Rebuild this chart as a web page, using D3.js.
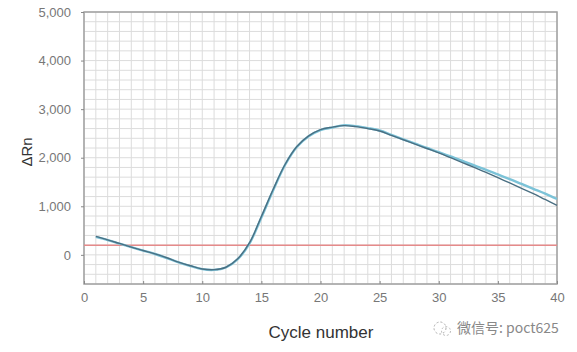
<!DOCTYPE html>
<html>
<head>
<meta charset="utf-8">
<script src="https://cdn.jsdelivr.net/npm/d3@7"></script>
<style>
  body { margin: 0; background: #fff; }
  text { font-family: "Liberation Sans", Arial, sans-serif; }
</style>
</head>
<body>
<div id="chart"></div>
<script>
// cycle numbers and the two amplification traces (delta Rn)
var cycles = d3.range(1, 41);
var traceLow = [380, 310, 235, 160, 90, 20, -60, -150, -225, -290, -305, -255, -80, 250, 790,
  1350, 1860, 2230, 2450, 2580, 2630, 2660, 2640, 2600, 2550, 2460, 2370, 2280, 2190, 2100,
  2000, 1900, 1800, 1700, 1590, 1480, 1370, 1260, 1140, 1020];
var traceHigh = [370, 305, 230, 158, 88, 18, -65, -155, -230, -295, -310, -260, -90, 235, 770,
  1330, 1850, 2220, 2440, 2570, 2620, 2670, 2650, 2610, 2560, 2470, 2380, 2290, 2200, 2115,
  2025, 1935, 1840, 1750, 1655, 1560, 1460, 1360, 1260, 1150];
var threshold = 200;
var xTicks = [0, 5, 10, 15, 20, 25, 30, 35, 40];
var yTicks = [0, 1000, 2000, 3000, 4000, 5000];

var svgWidth = 577;
var svgHeight = 352;
var margin = { top: 12, right: 20, bottom: 68, left: 84 };
var chartWidth = svgWidth - margin.left - margin.right;
var chartHeight = svgHeight - margin.top - margin.bottom;

var svg = d3.select("#chart").append("svg")
  .attr("width", svgWidth)
  .attr("height", svgHeight);

var chartGroup = svg.append("g")
  .attr("transform", `translate(${margin.left}, ${margin.top})`);

var xScale = d3.scaleLinear().domain([0, 40]).range([0, chartWidth]);
var yScale = d3.scaleLinear().domain([-600, 5000]).range([chartHeight, 0]);

// grid
chartGroup.append("g")
  .selectAll("line")
  .data(d3.range(0, 41))
  .enter().append("line")
  .attr("x1", d => xScale(d)).attr("x2", d => xScale(d))
  .attr("y1", 0).attr("y2", chartHeight)
  .attr("stroke", "#dcdcdc").attr("stroke-width", 1);

chartGroup.append("g")
  .selectAll("line")
  .data(d3.range(-600, 5001, 200))
  .enter().append("line")
  .attr("x1", 0).attr("x2", chartWidth)
  .attr("y1", d => yScale(d)).attr("y2", d => yScale(d))
  .attr("stroke", "#dcdcdc").attr("stroke-width", 1);

// frame
chartGroup.append("rect")
  .attr("width", chartWidth).attr("height", chartHeight)
  .attr("fill", "none").attr("stroke", "#a0a0a0").attr("stroke-width", 1.5);

// axes
var xAxis = d3.axisBottom(xScale).tickValues(xTicks).tickSize(-3).tickPadding(9);
var yAxis = d3.axisLeft(yScale).tickValues(yTicks).tickSize(3).tickPadding(10)
  .tickFormat(d3.format(","));

var gx = chartGroup.append("g")
  .attr("transform", `translate(0, ${chartHeight})`)
  .call(xAxis);
var gy = chartGroup.append("g").call(yAxis);

[gx, gy].forEach(function(g) {
  g.select(".domain").remove();
  g.selectAll("line").attr("stroke", "#888");
  g.selectAll("text")
    .attr("fill", "#777")
    .attr("font-size", "13px")
    .style("font-family", "'Liberation Sans', Arial, sans-serif");
});

// threshold line
chartGroup.append("line")
  .attr("x1", xScale(0)).attr("x2", xScale(40))
  .attr("y1", yScale(threshold)).attr("y2", yScale(threshold))
  .attr("stroke", "#e58a8a").attr("stroke-width", 1.5);

// traces
var line = d3.line()
  .x((d, i) => xScale(cycles[i]))
  .y(d => yScale(d))
  .curve(d3.curveCatmullRom);

chartGroup.append("path")
  .datum(traceHigh)
  .attr("d", line)
  .attr("fill", "none")
  .attr("stroke", "#7cc3d8")
  .attr("stroke-width", 2.4);

chartGroup.append("path")
  .datum(traceLow)
  .attr("d", line)
  .attr("fill", "none")
  .attr("stroke", "#4a6f82")
  .attr("stroke-width", 1.4);

// axis titles
svg.append("text")
  .attr("transform", "translate(32, 152) rotate(-90)")
  .attr("text-anchor", "middle")
  .attr("font-size", "15px")
  .attr("fill", "#333")
  .text("ΔRn");

svg.append("text")
  .attr("x", 321).attr("y", 338)
  .attr("text-anchor", "middle")
  .attr("font-size", "17px")
  .attr("fill", "#333")
  .text("Cycle number");

// watermark
var wm = svg.append("g").attr("transform", "translate(430, 320)");
wm.append("circle").attr("cx", 10).attr("cy", 8).attr("r", 6)
  .attr("fill", "none").attr("stroke", "#aaa").attr("stroke-dasharray", "2,2");
wm.append("circle").attr("cx", 16).attr("cy", 11).attr("r", 4.5)
  .attr("fill", "none").attr("stroke", "#bbb").attr("stroke-dasharray", "2,2");
svg.append("text")
  .attr("x", 457).attr("y", 333)
  .attr("font-size", "14px")
  .attr("fill", "#888")
  .style("font-family", "'Noto Sans CJK SC', 'Liberation Sans', sans-serif")
  .text("微信号: poct625");
</script>
</body>
</html>
